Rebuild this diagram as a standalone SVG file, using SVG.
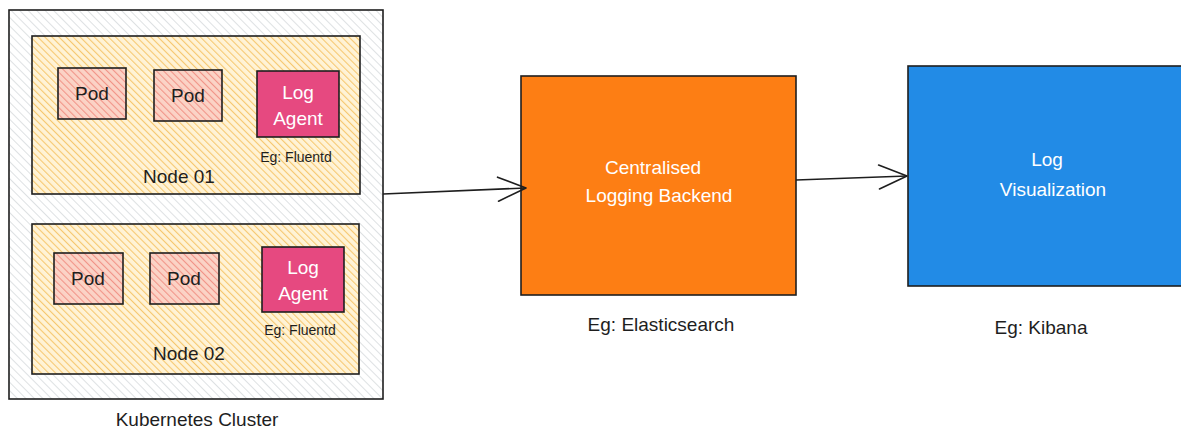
<svg xmlns="http://www.w3.org/2000/svg" width="1181" height="432" viewBox="0 0 1181 432">
<defs>
<pattern id="hGray" patternUnits="userSpaceOnUse" width="6" height="6" patternTransform="rotate(-45)">
<rect width="6" height="6" fill="#ffffff"/>
<line x1="0" y1="0" x2="0" y2="6" stroke="#d0d4d8" stroke-width="1.4"/>
</pattern>
<pattern id="hYellow" patternUnits="userSpaceOnUse" width="5" height="5" patternTransform="rotate(-45)">
<rect width="5" height="5" fill="#fff3d6"/>
<line x1="0" y1="0" x2="0" y2="5" stroke="#f6c870" stroke-width="2.2"/>
</pattern>
<pattern id="hPink" patternUnits="userSpaceOnUse" width="5" height="5" patternTransform="rotate(-45)">
<rect width="5" height="5" fill="#fbd3c6"/>
<line x1="0" y1="0" x2="0" y2="5" stroke="#f19488" stroke-width="2.2"/>
</pattern>
<marker id="arr" markerWidth="34" markerHeight="30" refX="30" refY="13" orient="auto" markerUnits="userSpaceOnUse">
<path d="M2,1 L30,13 L2,25" fill="none" stroke="#1e1e1e" stroke-width="1.6" stroke-linecap="round" stroke-linejoin="round"/>
</marker>
</defs>
<style>
.box{stroke:#1e1e1e;stroke-width:1.6}
.t{font-family:"Liberation Sans","DejaVu Sans",sans-serif;font-size:19px;fill:#1e1e1e;text-anchor:middle}
.w{fill:#ffffff}
.s{font-size:14px}
.conn{fill:none;stroke:#1e1e1e;stroke-width:1.6}
</style>
<g id="cluster">
<rect class="box" x="9" y="10" width="374" height="389" fill="url(#hGray)"/>
<text class="t" x="197" y="426">Kubernetes Cluster</text>
</g>
<g id="node01">
<rect class="box" x="32" y="36" width="328" height="158" fill="url(#hYellow)"/>
<text class="t" x="179" y="183">Node 01</text>
</g>
<g id="pod11">
<rect class="box" x="58" y="68" width="68" height="51" fill="url(#hPink)"/>
<text class="t" x="92" y="100">Pod</text>
</g>
<g id="pod12">
<rect class="box" x="154" y="70" width="68" height="51" fill="url(#hPink)"/>
<text class="t" x="188" y="102">Pod</text>
</g>
<g id="agent1">
<rect class="box" x="257" y="71" width="82" height="66" fill="#e64980"/>
<text class="t w" x="298" y="99">Log</text>
<text class="t w" x="298" y="125">Agent</text>
<text class="t s" x="296" y="162">Eg: Fluentd</text>
</g>
<g id="node02">
<rect class="box" x="32" y="224" width="327" height="150" fill="url(#hYellow)"/>
<text class="t" x="189" y="360">Node 02</text>
</g>
<g id="pod21">
<rect class="box" x="54" y="253" width="69" height="51" fill="url(#hPink)"/>
<text class="t" x="88" y="285">Pod</text>
</g>
<g id="pod22">
<rect class="box" x="150" y="253" width="69" height="51" fill="url(#hPink)"/>
<text class="t" x="184" y="285">Pod</text>
</g>
<g id="agent2">
<rect class="box" x="262" y="247" width="82" height="65" fill="#e64980"/>
<text class="t w" x="303" y="274">Log</text>
<text class="t w" x="303" y="300">Agent</text>
<text class="t s" x="300" y="335">Eg: Fluentd</text>
</g>
<g id="backend">
<rect class="box" x="521" y="76" width="275" height="219" fill="#fd7e14"/>
<text class="t w" x="653" y="174">Centralised</text>
<text class="t w" x="659" y="202">Logging Backend</text>
<text class="t" x="661" y="331">Eg: Elasticsearch</text>
</g>
<g id="visual">
<rect class="box" x="908" y="66" width="280" height="220" fill="#228be6"/>
<text class="t w" x="1047" y="166">Log</text>
<text class="t w" x="1053" y="196">Visualization</text>
<text class="t" x="1041" y="334">Eg: Kibana</text>
</g>
<g id="connectors">
<path class="conn" d="M383,194 L526,188" marker-end="url(#arr)"/>
<path class="conn" d="M796,180 L907,176" marker-end="url(#arr)"/>
</g>
</svg>
